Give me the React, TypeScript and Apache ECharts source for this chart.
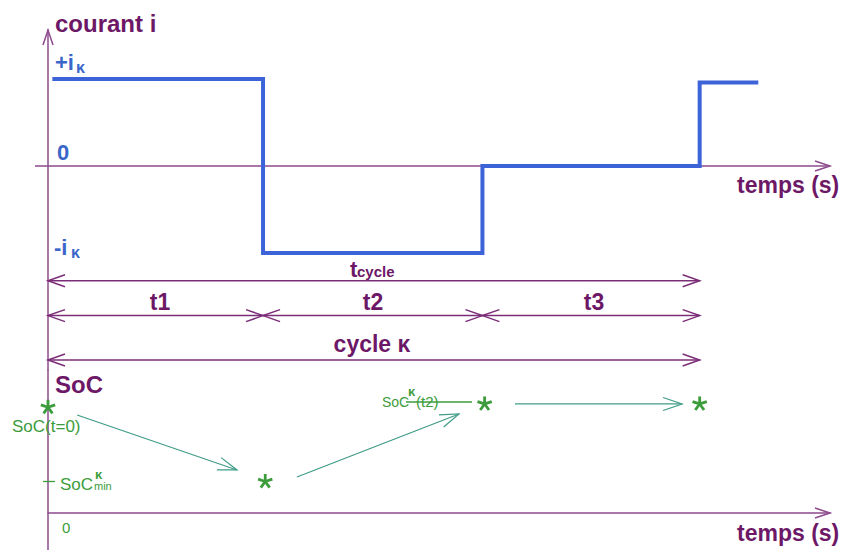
import React, { useEffect, useRef } from "react";
import * as echarts from "echarts";

// ---- data (time in cycle units, current in units of i_kappa, SoC in %) ----
const currentTimes = [0.02, 0.99, 0.99, 2.0, 2.0, 3.0, 3.0, 3.27];
const currentLevels = [1, 1, -1, -1, 0, 0, 0.96, 0.96];

const phaseBounds = [0, 0.99, 2.0, 3.0];
const phaseLabels = ["t1", "t2", "t3"];

const rowTcycle = -1.32;
const rowPhases = -1.72;
const rowCycle = -2.23;

const socTimes = [0, 1.0, 2.01, 3.0];
const socValues = [70.5, 21, 72.7, 72.7];
const socMin = 21;
const socT2 = 74;

// arrows between SoC states: [t0, soc0, t1, soc1]
const socArrows = [
  [0.134, 65.3, 0.87, 28.7],
  [1.146, 24.0, 1.892, 66.0],
  [2.15, 72.7, 2.919, 72.7],
];

const PURPLE_TXT = "#6d1866";
const PURPLE_AXIS = "#8d4a8d";
const PURPLE_DIM = "#7b2d78";
const BLUE = "#3d63d9";
const BLUE_TXT = "#3b66c9";
const GREEN = "#3c9c3c";
const TEAL = "#3f9b86";
const FONT = '"Liberation Sans", Arial, sans-serif';

// guide rows: [x0, y0, x1, y1, startHead, endHead, kind, drawLine]
// kinds: 0 axis, 1 dimension line, 2 teal arrow, 3 green leader
const guidesTop: number[][] = [
  [-0.06, 0, 3.6, 0, 0, 1, 0, 1],
  [0, 1.4, 0, 1.563, 0, 1, 0, 0],
  [phaseBounds[0], rowTcycle, phaseBounds[3], rowTcycle, 1, 1, 1, 1],
  ...phaseLabels.map((_, i) => [phaseBounds[i], rowPhases, phaseBounds[i + 1], rowPhases, 1, 1, 1, 1]),
  [phaseBounds[0], rowCycle, phaseBounds[3], rowCycle, 1, 1, 1, 1],
];
const guidesBottom: number[][] = [
  [3.5, 0, 3.6, 0, 0, 1, 0, 0],
  [-0.023, socMin, 0.032, socMin, 0, 0, 3, 1],
  [1.648, socT2, 1.952, socT2, 0, 0, 3, 1],
  ...socArrows.map((a) => [a[0], a[1], a[2], a[3], 0, 1, 2, 1]),
];

const kindStyle: Record<number, { color: string; width: number; L: number; h: number }> = {
  0: { color: PURPLE_AXIS, width: 1.5, L: 15, h: 5 },
  1: { color: PURPLE_DIM, width: 1.5, L: 17, h: 6 },
  2: { color: TEAL, width: 1.2, L: 19, h: 6.5 },
  3: { color: GREEN, width: 1.3, L: 0, h: 0 },
};

function chevron(tip: number[], ux: number, uy: number, L: number, h: number) {
  return [
    [tip[0] - L * ux - h * uy, tip[1] - L * uy + h * ux],
    [tip[0], tip[1]],
    [tip[0] - L * ux + h * uy, tip[1] - L * uy - h * ux],
  ];
}

function renderGuide(_params: any, api: any) {
  const p0 = api.coord([api.value(0), api.value(1)]);
  const p1 = api.coord([api.value(2), api.value(3)]);
  const kind = api.value(6);
  const st = kindStyle[kind];
  const dx = p1[0] - p0[0];
  const dy = p1[1] - p0[1];
  const len = Math.sqrt(dx * dx + dy * dy) || 1;
  const ux = dx / len;
  const uy = dy / len;
  const style = { stroke: st.color, lineWidth: st.width, fill: "none" };
  const children: any[] = [];
  if (api.value(7)) {
    children.push({ type: "line", shape: { x1: p0[0], y1: p0[1], x2: p1[0], y2: p1[1] }, style });
  }
  if (api.value(4)) {
    children.push({ type: "polyline", shape: { points: chevron(p0, -ux, -uy, st.L, st.h) }, style });
  }
  if (api.value(5)) {
    children.push({ type: "polyline", shape: { points: chevron(p1, ux, uy, st.L, st.h) }, style });
  }
  return { type: "group", children };
}

function renderStar(_params: any, api: any) {
  const c = api.coord([api.value(0), api.value(1)]);
  const R = 7.5;
  const children: any[] = [];
  for (let k = 0; k < 5; k++) {
    const a = (k * 72 * Math.PI) / 180;
    children.push({
      type: "line",
      shape: { x1: c[0], y1: c[1], x2: c[0] + R * Math.sin(a), y2: c[1] - R * Math.cos(a) },
      style: { stroke: GREEN, lineWidth: 2.8 },
    });
  }
  return { type: "group", children };
}

function txt(text: string, x: number, y: number, size: number, color: string, bold: boolean, align = "left") {
  return {
    type: "text",
    x,
    y,
    z: 20,
    style: {
      text,
      fill: color,
      font: `${bold ? "bold " : ""}${size}px ${FONT}`,
      align,
      verticalAlign: "middle",
      textAlign: align,
      textVerticalAlign: "middle",
    },
  };
}

const phaseCenters = [160, 373, 594];

const hiddenAxis = {
  axisTick: { show: false },
  axisLabel: { show: false },
  splitLine: { show: false },
};

export default function App() {
  const ref = useRef<HTMLDivElement>(null);
  useEffect(() => {
    const chart = echarts.init(ref.current!, null, { renderer: "svg" });
    chart.setOption({
      animation: false,
      grid: [
        { left: 48, top: 30, width: 782, height: 340 },
        { left: 48, top: 370, width: 782, height: 180 },
      ],
      xAxis: [
        { type: "value", gridIndex: 0, min: 0, max: 3.6, axisLine: { show: false }, ...hiddenAxis },
        {
          type: "value",
          gridIndex: 1,
          min: 0,
          max: 3.6,
          axisLine: { show: true, onZero: true, lineStyle: { color: PURPLE_AXIS, width: 1.5 } },
          ...hiddenAxis,
        },
      ],
      yAxis: [
        {
          type: "value",
          gridIndex: 0,
          min: -2.345,
          max: 1.563,
          axisLine: { show: true, onZero: true, lineStyle: { color: PURPLE_AXIS, width: 1.5 } },
          ...hiddenAxis,
        },
        {
          type: "value",
          gridIndex: 1,
          min: -24.667,
          max: 95.333,
          axisLine: { show: true, onZero: true, lineStyle: { color: PURPLE_AXIS, width: 1.5 } },
          ...hiddenAxis,
        },
      ],
      series: [
        {
          name: "courant",
          type: "line",
          xAxisIndex: 0,
          yAxisIndex: 0,
          data: currentTimes.map((t, i) => [t, currentLevels[i]]),
          symbol: "none",
          lineStyle: { color: BLUE, width: 4, join: "miter", cap: "butt" },
          z: 5,
        },
        {
          name: "guidesTop",
          type: "custom",
          xAxisIndex: 0,
          yAxisIndex: 0,
          data: guidesTop,
          encode: { x: [0, 2], y: [1, 3] },
          renderItem: renderGuide,
          z: 3,
        },
        {
          name: "guidesBottom",
          type: "custom",
          xAxisIndex: 1,
          yAxisIndex: 1,
          data: guidesBottom,
          encode: { x: [0, 2], y: [1, 3] },
          renderItem: renderGuide,
          z: 3,
        },
        {
          name: "SoC",
          type: "custom",
          xAxisIndex: 1,
          yAxisIndex: 1,
          data: socTimes.map((t, i) => [t, socValues[i]]),
          encode: { x: 0, y: 1 },
          renderItem: renderStar,
          z: 6,
        },
      ],
      graphic: {
        elements: [
          txt("courant i", 55, 23.7, 24, PURPLE_TXT, true),
          txt("+i", 55, 62.4, 22, BLUE_TXT, true),
          txt("κ", 76, 67.5, 16, BLUE_TXT, true),
          txt("0", 57, 152.4, 22, BLUE_TXT, true),
          txt("-i", 54, 247.4, 22, BLUE_TXT, true),
          txt("κ", 71, 252.5, 16, BLUE_TXT, true),
          txt("temps (s)", 737, 185, 23, PURPLE_TXT, true),
          txt("t", 350, 269.4, 22, PURPLE_TXT, true),
          txt("cycle", 357, 271.8, 15, PURPLE_TXT, true),
          ...phaseLabels.map((l, i) => txt(l, phaseCenters[i], 302, 23, PURPLE_TXT, true, "center")),
          txt("cycle κ", 372, 344, 23, PURPLE_TXT, true, "center"),
          txt("SoC", 55, 384.7, 24, PURPLE_TXT, true),
          txt("SoC(t=0)", 12, 426, 17, GREEN, false),
          txt("SoC", 60, 484, 17, GREEN, false),
          txt("κ", 95, 474, 13, GREEN, true),
          txt("min", 94, 486, 11, GREEN, false),
          txt("SoC", 382, 402, 14, GREEN, false),
          txt("κ", 408, 391, 13, GREEN, true),
          txt("(t2)", 416, 401.8, 15, GREEN, false),
          txt("0", 62, 527.8, 15, GREEN, false),
          txt("temps (s)", 737, 533, 23, PURPLE_TXT, true),
        ],
      },
    });
    return () => chart.dispose();
  }, []);
  return (
    <div
      ref={ref}
      style={{ position: "fixed", left: 0, top: 0, width: 844, height: 550, background: "#fff" }}
    />
  );
}
